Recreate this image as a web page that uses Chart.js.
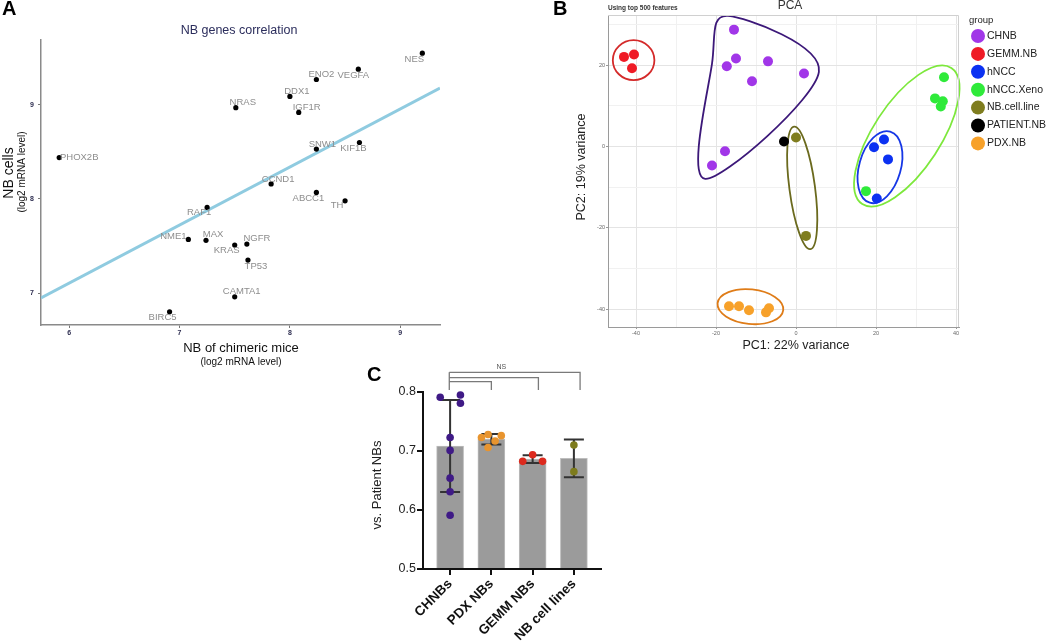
<!DOCTYPE html>
<html>
<head>
<meta charset="utf-8">
<script src="https://cdn.jsdelivr.net/npm/chart.js@4.4.1/dist/chart.umd.min.js"></script>
<style>
html, body { margin: 0; padding: 0; background: #fff; }
#page { position: relative; width: 1050px; height: 643px; overflow: hidden; }
canvas { position: absolute; }
</style>
</head>
<body>
<div id="page">
  <canvas id="chartA" width="480" height="370" style="left:0;top:0"></canvas>
  <canvas id="chartB" width="510" height="360" style="left:540px;top:0"></canvas>
  <canvas id="chartC" width="300" height="303" style="left:360px;top:340px"></canvas>
</div>
<script>
// ---------- data

// A: NB genes correlation
const genes = ['NES', 'VEGFA', 'ENO2', 'DDX1', 'NRAS', 'IGF1R', 'SNW1', 'KIF1B', 'PHOX2B', 'CCND1',
               'ABCC1', 'TH', 'RAF1', 'NME1', 'MAX', 'KRAS', 'NGFR', 'TP53', 'CAMTA1', 'BIRC5'];
const chimericMice = [9.2, 8.62, 8.24, 8.0, 7.51, 8.08, 8.24, 8.63, 5.91, 7.83,
                      8.24, 8.5, 7.25, 7.08, 7.24, 7.5, 7.61, 7.62, 7.5, 6.91];
const nbCells = [9.55, 9.38, 9.27, 9.09, 8.97, 8.92, 8.53, 8.6, 8.44, 8.16,
                 8.07, 7.98, 7.91, 7.57, 7.56, 7.51, 7.52, 7.35, 6.96, 6.8];
const ticksAx = [6, 7, 8, 9];
const ticksAy = [7, 8, 9];

// B: PCA
const pcaGroups = ['CHNB', 'GEMM.NB', 'hNCC', 'hNCC.Xeno', 'NB.cell.line', 'PATIENT.NB', 'PDX.NB'];
const pc1 = [
    [-15.5, -17.3, -15, -7, -11, 2, -17.75, -21],
    [-43, -40.5, -41],
    [19.5, 22, 23, 20.2],
    [37, 34.75, 36.7, 36.2, 17.5],
    [0, 2.5],
    [-3],
    [-16.75, -14.25, -11.75, -7.5, -6.75]
];
const pc2 = [
    [28.7, 19.7, 21.6, 20.9, 16, 17.9, -1.2, -4.7],
    [22, 22.6, 19.2],
    [-0.2, 1.7, -3.2, -12.8],
    [17, 11.8, 11.1, 9.8, -11],
    [2.2, -22],
    [1.2],
    [-39.3, -39.3, -40.3, -40.8, -39.8]
];
const ticksBx = [-40, -30, -20, -10, 0, 10, 20, 30, 40];
const ticksBy = [-40, -30, -20, -10, 0, 10, 20, 30];

// C: correlation vs. patient NBs
const sampleTypes = ['CHNBs', 'PDX NBs', 'GEMM NBs', 'NB cell lines'];
const corrValues = [
    [0.791, 0.795, 0.781, 0.723, 0.701, 0.654, 0.631, 0.591],
    [0.723, 0.728, 0.726, 0.717, 0.706],
    [0.6825, 0.6937, 0.6825],
    [0.710, 0.665]
];
const ticksCy = [0.5, 0.6, 0.7, 0.8];

// ---------- styles

Chart.defaults.font.family = '"Liberation Sans", Arial, Helvetica, sans-serif';
Chart.defaults.color = '#222';
Chart.defaults.animation = false;

const FONT = '"Liberation Sans", Arial, Helvetica, sans-serif';

function text (ctx, str, x, y, font, color, align, rot) {
    ctx.save();
    ctx.font = font;
    ctx.fillStyle = color;
    ctx.textAlign = align || 'center';
    ctx.textBaseline = 'middle';
    ctx.translate(x, y);
    if (rot) ctx.rotate(rot);
    ctx.fillText(str, 0, 0);
    ctx.restore();
}

// ---------- A

// nudges of the gene labels, pixels from their point
const labelNudge = {
    NES: [-8, 6], VEGFA: [-5, 6], ENO2: [5, -5], DDX1: [7, -5], NRAS: [7, -5],
    IGF1R: [8, -5], SNW1: [6, -5], KIF1B: [-6, 6], PHOX2B: [20, 0], CCND1: [7, -5],
    ABCC1: [-8, 6], TH: [-8, 5], RAF1: [-8, 5], NME1: [-15, -3], MAX: [7, -6],
    KRAS: [-8, 5], NGFR: [10, -6], TP53: [8, 6], CAMTA1: [7, -5], BIRC5: [-7, 6]
};

const xMinA = 5.745, xMaxA = 9.36;

// least squares fit
const mx = chimericMice.reduce((a, b) => a + b, 0) / chimericMice.length;
const my = nbCells.reduce((a, b) => a + b, 0) / nbCells.length;
let sxx = 0, sxy = 0;
chimericMice.forEach((x, i) => {
    sxx += (x - mx) * (x - mx);
    sxy += (x - mx) * (nbCells[i] - my);
});
const slope = sxy / sxx;
const intercept = my - slope * mx;
const fitLine = [xMinA, xMaxA].map(x => ({ x: x, y: intercept + slope * x }));

const panelAText = {
    id: 'panelAText',
    afterDatasetsDraw (chart) {
        const ctx = chart.ctx;
        const xs = chart.scales.x, ys = chart.scales.y;
        genes.forEach((g, i) => {
            const n = labelNudge[g];
            text(ctx, g, xs.getPixelForValue(chimericMice[i]) + n[0], ys.getPixelForValue(nbCells[i]) + n[1],
                 '9.5px ' + FONT, '#8d8d8d');
        });
    },
    afterDraw (chart) {
        const ctx = chart.ctx;
        text(ctx, 'A', 2, 9, 'bold 20px ' + FONT, '#000', 'left');
        text(ctx, 'NB genes correlation', 239, 31, '12.5px ' + FONT, '#2b2d5c');
        text(ctx, 'NB cells', 9, 173, '14px ' + FONT, '#111', 'center', -Math.PI / 2);
        text(ctx, '(log2 mRNA level)', 22, 172, '10px ' + FONT, '#111', 'center', -Math.PI / 2);
        text(ctx, 'NB of chimeric mice', 241, 348, '13px ' + FONT, '#111');
        text(ctx, '(log2 mRNA level)', 241, 362, '10px ' + FONT, '#111');
    }
};

new Chart(document.getElementById('chartA'), {
    type: 'scatter',
    data: {
        datasets: [
            {
                data: genes.map((g, i) => ({ x: chimericMice[i], y: nbCells[i] })),
                backgroundColor: '#000',
                borderWidth: 0,
                pointRadius: 2.6,
                order: 1
            },
            {
                type: 'line',
                data: fitLine,
                borderColor: '#8fcbe0',
                borderWidth: 3,
                pointRadius: 0,
                order: 2
            }
        ]
    },
    options: {
        responsive: false,
        layout: { padding: { left: 0, top: 40, right: 40, bottom: 0 } },
        plugins: { legend: { display: false }, tooltip: { enabled: false } },
        scales: {
            x: {
                type: 'linear', min: xMinA, max: xMaxA,
                afterBuildTicks: s => { s.ticks = ticksAx.map(v => ({ value: v })); },
                afterFit: s => { s.height = 45; },
                grid: { drawOnChartArea: false, tickLength: 3, color: '#777' },
                border: { color: '#8a8a8a', width: 1.5 },
                ticks: { font: { size: 7, weight: 'bold' }, color: '#2d2d50', padding: 1 }
            },
            y: {
                type: 'linear', min: 6.66, max: 9.69,
                afterBuildTicks: s => { s.ticks = ticksAy.map(v => ({ value: v })); },
                afterFit: s => { s.width = 41; },
                grid: { drawOnChartArea: false, tickLength: 3, color: '#777' },
                border: { color: '#8a8a8a', width: 1.5 },
                ticks: { font: { size: 7, weight: 'bold' }, color: '#2d2d50', padding: 4 }
            }
        }
    },
    plugins: [panelAText]
});

// ---------- B

const groupColors = ['#a136e8', '#ef1b26', '#0b31f2', '#2fea3a', '#7f7d1f', '#000000', '#f7a12a'];

// rings drawn round the groups, in data units
const pcaRings = [
    { cx: -40.6, cy: 21.2, rx: 5.2, ry: 4.9, rot: 0, color: '#d42a2a' },
    { cx: 1.55, cy: -10.2, rx: 3.2, ry: 15.2, rot: -7.6, color: '#6b6a1e' },
    { cx: 21, cy: -5.1, rx: 5.2, ry: 9.1, rot: 16, color: '#1637e6' },
    { cx: 27.7, cy: 2.55, rx: 8.4, ry: 20, rot: 33.2, color: '#7de83c' },
    { cx: -11.4, cy: -39.4, rx: 8.25, ry: 4.25, rot: 6, color: '#df7c18' }
];

function convexHull (pts) {
    pts = pts.slice().sort((a, b) => a.x - b.x || a.y - b.y);
    const cross = (o, a, b) => (a.x - o.x) * (b.y - o.y) - (a.y - o.y) * (b.x - o.x);
    const lower = [], upper = [];
    pts.forEach(p => {
        while (lower.length >= 2 && cross(lower[lower.length - 2], lower[lower.length - 1], p) <= 0) lower.pop();
        lower.push(p);
    });
    pts.slice().reverse().forEach(p => {
        while (upper.length >= 2 && cross(upper[upper.length - 2], upper[upper.length - 1], p) <= 0) upper.pop();
        upper.push(p);
    });
    upper.pop();
    lower.pop();
    return lower.concat(upper);
}

// smooth closed curve round a group: hull corners pushed out, then a closed spline
function drawSmoothHull (ctx, v, R) {
    const n = v.length;
    const cx = v.reduce((a, p) => a + p.x, 0) / n;
    const cy = v.reduce((a, p) => a + p.y, 0) / n;
    const outNormal = (a, b) => {
        let nx = b.y - a.y, ny = a.x - b.x;
        const len = Math.hypot(nx, ny);
        nx /= len; ny /= len;
        if (nx * ((a.x + b.x) / 2 - cx) + ny * ((a.y + b.y) / 2 - cy) < 0) { nx = -nx; ny = -ny; }
        return { x: nx, y: ny };
    };
    const pts = v.map((b, i) => {
        const n1 = outNormal(v[(i - 1 + n) % n], b), n2 = outNormal(b, v[(i + 1) % n]);
        const bx = n1.x + n2.x, by = n1.y + n2.y;
        const l = Math.hypot(bx, by);
        return { x: b.x + bx / l * R, y: b.y + by / l * R };
    });
    ctx.beginPath();
    ctx.moveTo(pts[0].x, pts[0].y);
    for (let i = 0; i < n; i++) {
        const p0 = pts[(i - 1 + n) % n], p1 = pts[i], p2 = pts[(i + 1) % n], p3 = pts[(i + 2) % n];
        ctx.bezierCurveTo(p1.x + (p2.x - p0.x) / 6, p1.y + (p2.y - p0.y) / 6,
                          p2.x - (p3.x - p1.x) / 6, p2.y - (p3.y - p1.y) / 6,
                          p2.x, p2.y);
    }
    ctx.closePath();
    ctx.stroke();
}

const panelBDeco = {
    id: 'panelBDeco',
    beforeDatasetsDraw (chart) {
        const ctx = chart.ctx;
        const xs = chart.scales.x, ys = chart.scales.y;
        const ux = xs.getPixelForValue(1) - xs.getPixelForValue(0);
        const uy = ys.getPixelForValue(0) - ys.getPixelForValue(1);
        ctx.save();
        ctx.lineWidth = 1.8;
        pcaRings.forEach(r => {
            ctx.strokeStyle = r.color;
            ctx.beginPath();
            ctx.ellipse(xs.getPixelForValue(r.cx), ys.getPixelForValue(r.cy), r.rx * ux, r.ry * uy,
                        r.rot * Math.PI / 180, 0, Math.PI * 2);
            ctx.stroke();
        });
        const hull = convexHull(pc1[0].map((x, i) => ({ x: xs.getPixelForValue(x), y: ys.getPixelForValue(pc2[0][i]) })));
        ctx.strokeStyle = '#3c1879';
        drawSmoothHull(ctx, hull, 15);
        ctx.restore();
    },
    afterDraw (chart) {
        const ctx = chart.ctx;
        const a = chart.chartArea;
        ctx.save();
        ctx.strokeStyle = '#d0d0d0';
        ctx.lineWidth = 1;
        ctx.beginPath();
        ctx.moveTo(a.left, a.top + 0.5);
        ctx.lineTo(a.right - 0.5, a.top + 0.5);
        ctx.lineTo(a.right - 0.5, a.bottom);
        ctx.stroke();
        ctx.restore();

        text(ctx, 'B', 13, 9, 'bold 20px ' + FONT, '#000', 'left');
        text(ctx, 'Using top 500 features', 68, 8, 'bold 6.5px ' + FONT, '#333', 'left');
        text(ctx, 'PCA', 250, 6, '12px ' + FONT, '#333');
        text(ctx, 'PC2: 19% variance', 42, 167, '12.5px ' + FONT, '#222', 'center', -Math.PI / 2);
        text(ctx, 'PC1: 22% variance', 256, 346, '12.5px ' + FONT, '#222');

        text(ctx, 'group', 429, 20, '9.5px ' + FONT, '#222', 'left');
        pcaGroups.forEach((g, i) => {
            const y = 36 + i * 17.9;
            ctx.fillStyle = groupColors[i];
            ctx.beginPath();
            ctx.arc(438, y, 7, 0, Math.PI * 2);
            ctx.fill();
            text(ctx, g, 447, y, '10.5px ' + FONT, '#222', 'left');
        });
    }
};

const majorB = v => v % 20 === 0;

new Chart(document.getElementById('chartB'), {
    type: 'scatter',
    data: {
        datasets: pcaGroups.map((g, gi) => ({
            label: g,
            data: pc1[gi].map((x, i) => ({ x: x, y: pc2[gi][i] })),
            backgroundColor: groupColors[gi],
            borderWidth: 0,
            pointRadius: 5,
            clip: false
        }))
    },
    options: {
        responsive: false,
        layout: { padding: { left: 0, top: 15, right: 91, bottom: 0 } },
        plugins: { legend: { display: false }, tooltip: { enabled: false } },
        scales: {
            x: {
                type: 'linear', min: -47, max: 40.75,
                afterBuildTicks: s => { s.ticks = ticksBx.map(v => ({ value: v })); },
                afterFit: s => { s.height = 33; },
                grid: {
                    color: c => majorB(c.tick.value) ? '#e4e4e4' : '#f1f1f1',
                    tickColor: c => majorB(c.tick.value) ? '#999' : 'rgba(0,0,0,0)',
                    tickLength: 2
                },
                border: { color: '#9a9a9a', width: 1 },
                ticks: { callback: v => majorB(v) ? v : '', font: { size: 5.5 }, color: '#666', padding: 1, autoSkip: false, maxRotation: 0 }
            },
            y: {
                type: 'linear', min: -44.4, max: 32.3,
                afterBuildTicks: s => { s.ticks = ticksBy.map(v => ({ value: v })); },
                afterFit: s => { s.width = 68; },
                grid: {
                    color: c => majorB(c.tick.value) ? '#e4e4e4' : '#f1f1f1',
                    tickColor: c => majorB(c.tick.value) ? '#999' : 'rgba(0,0,0,0)',
                    tickLength: 2
                },
                border: { color: '#9a9a9a', width: 1 },
                ticks: { callback: v => majorB(v) ? v : '', font: { size: 5.5 }, color: '#666', padding: 1, autoSkip: false }
            }
        }
    },
    plugins: [panelBDeco]
});

// ---------- C

const dotColors = ['#3f1a86', '#e8942e', '#dc2a1e', '#7d7b1c'];
// sideways spread of the dots, in category units
const dotSpread = [
    [-0.24, 0.25, 0.25, 0, 0, 0, 0, 0],
    [-0.24, -0.08, 0.24, 0.09, -0.08],
    [-0.24, 0, 0.24],
    [0, 0]
];

const means = corrValues.map(vals => vals.reduce((a, b) => a + b, 0) / vals.length);
const sds = corrValues.map((vals, i) => {
    const m = means[i];
    return Math.sqrt(vals.reduce((a, b) => a + (b - m) * (b - m), 0) / (vals.length - 1));
});

// NS bracket, data units
const bracketFrom = 0.98;
const bracketTo = [2.0, 3.14, 4.15];
const bracketTop = [0.8175, 0.8243, 0.8333];
const bracketFoot = 0.8034;

const panelCDeco = {
    id: 'panelCDeco',
    afterDatasetDraw (chart, args) {
        if (args.index !== 0) return;
        const ctx = chart.ctx;
        const xs = chart.scales.x, ys = chart.scales.y;
        ctx.save();
        ctx.strokeStyle = '#333';
        ctx.lineWidth = 2;
        means.forEach((m, i) => {
            const x = xs.getPixelForValue(i + 1);
            const y1 = ys.getPixelForValue(m + sds[i]);
            const y2 = ys.getPixelForValue(m - sds[i]);
            ctx.beginPath();
            ctx.moveTo(x, y1); ctx.lineTo(x, y2);
            ctx.moveTo(x - 10, y1); ctx.lineTo(x + 10, y1);
            ctx.moveTo(x - 10, y2); ctx.lineTo(x + 10, y2);
            ctx.stroke();
        });
        ctx.restore();
    },
    afterDraw (chart) {
        const ctx = chart.ctx;
        const xs = chart.scales.x, ys = chart.scales.y;
        text(ctx, 'C', 7, 35, 'bold 20px ' + FONT, '#000', 'left');
        text(ctx, 'vs. Patient NBs', 17, 145, '13px ' + FONT, '#222', 'center', -Math.PI / 2);

        ctx.save();
        ctx.strokeStyle = '#7a7a7a';
        ctx.lineWidth = 1.3;
        const x0 = xs.getPixelForValue(bracketFrom);
        const foot = ys.getPixelForValue(bracketFoot);
        ctx.beginPath();
        ctx.moveTo(x0, ys.getPixelForValue(bracketTop[2]));
        ctx.lineTo(x0, foot);
        bracketTo.forEach((b, i) => {
            const y = ys.getPixelForValue(bracketTop[i]);
            const x1 = xs.getPixelForValue(b);
            ctx.moveTo(x0, y);
            ctx.lineTo(x1, y);
            ctx.lineTo(x1, foot);
        });
        ctx.stroke();
        ctx.restore();
        text(ctx, 'NS', xs.getPixelForValue(2.24), ys.getPixelForValue(0.8417), '7px ' + FONT, '#555');
    }
};

new Chart(document.getElementById('chartC'), {
    type: 'bar',
    data: {
        datasets: [
            {
                data: means.map((m, i) => ({ x: i + 1, y: m })),
                base: 0.5,
                backgroundColor: '#9b9b9b',
                borderColor: '#bdbdbd',
                borderWidth: 1,
                barThickness: 27,
                order: 5
            }
        ].concat(corrValues.map((vals, gi) => ({
            type: 'scatter',
            data: vals.map((v, i) => ({ x: gi + 1 + dotSpread[gi][i], y: v })),
            backgroundColor: dotColors[gi],
            borderWidth: 0,
            pointRadius: 3.8,
            clip: false,
            order: 1
        })))
    },
    options: {
        responsive: false,
        layout: { padding: { left: 0, top: 52, right: 59, bottom: 0 } },
        plugins: { legend: { display: false }, tooltip: { enabled: false } },
        scales: {
            x: {
                type: 'linear', min: 0.343, max: 4.657, offset: false,
                afterBuildTicks: s => { s.ticks = sampleTypes.map((c, i) => ({ value: i + 1 })); },
                afterFit: s => { s.height = 74; },
                grid: { drawOnChartArea: false, offset: false, tickLength: 6, color: '#111', lineWidth: 2 },
                border: { color: '#111', width: 2 },
                ticks: {
                    callback: v => sampleTypes[v - 1],
                    font: { size: 13.5, weight: 'bold' }, color: '#111',
                    minRotation: 45, maxRotation: 45, padding: 1, autoSkip: false
                }
            },
            y: {
                type: 'linear', min: 0.5, max: 0.8,
                afterBuildTicks: s => { s.ticks = ticksCy.map(v => ({ value: v })); },
                afterFit: s => { s.width = 63; },
                grid: { drawOnChartArea: false, tickLength: 6, color: '#111', lineWidth: 2 },
                border: { color: '#111', width: 2 },
                ticks: { callback: v => v.toFixed(1), font: { size: 12.5 }, color: '#222', padding: 1 }
            }
        }
    },
    plugins: [panelCDeco]
});
</script>
</body>
</html>
